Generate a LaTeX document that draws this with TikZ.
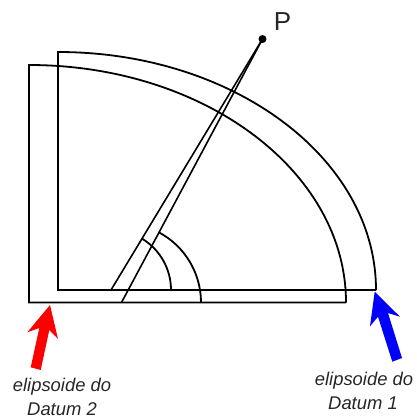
\documentclass[tikz,border=0pt]{standalone}
\usepackage{fontspec}
\setmainfont{Liberation Sans}
\begin{document}
\begin{tikzpicture}[x=1pt,y=-1pt,
  ln/.style={draw=black,line width=1.8pt,line join=miter},
  lab/.style={font=\itshape\fontsize{18.4}{20}\selectfont,align=center,text=black!85,inner sep=0pt}]
\useasboundingbox (0,0) rectangle (416,418);
% datum 1
\draw[ln] (376,290) -- (58,290) -- (58,52) arc[start angle=-90,end angle=0,x radius=318,y radius=238];
% datum 2
\draw[ln] (346,302.5) -- (29,302.5) -- (29,65) arc[start angle=-90,end angle=0,x radius=317,y radius=237.5];
\coordinate (O1) at (111,290);
\coordinate (O2) at (121.5,302.5);
\node[circle,fill=black,inner sep=0pt,minimum size=8pt] (Pt) at (262.5,39) {};
\node[font=\fontsize{26}{26}\selectfont,text=black!85,inner sep=0pt] (Pl) at (282.5,22) {P};
\draw[ln,line width=1.6pt] (O1) -- (Pt.center);
\draw[ln,line width=1.6pt] (O2) -- (Pt.center);
\draw[ln] (171,290) arc[start angle=0,end angle=-58.9,radius=60];
\draw[ln] (201,302.5) arc[start angle=0,end angle=-61.9,radius=79.5];
% arrows
\fill[red] (50,305) -- (27.3,332.3) -- (39.3,328) -- (30.7,367.3) -- (40.7,370) -- (49.3,330) -- (58,339) -- cycle;
\fill[blue] (374.7,291.7) -- (400,316.7) -- (388,313) -- (402,358) -- (392.3,361.7) -- (378,316.7) -- (370,326.3) -- cycle;
\node[lab] (L2) at (62,387) {elipsoide do};
\node[lab] (L2b) at (62,409) {Datum 2};
\node[lab] (L1) at (364,381) {elipsoide do};
\node[lab] (L1b) at (363,403) {Datum 1};
\end{tikzpicture}
\end{document}
